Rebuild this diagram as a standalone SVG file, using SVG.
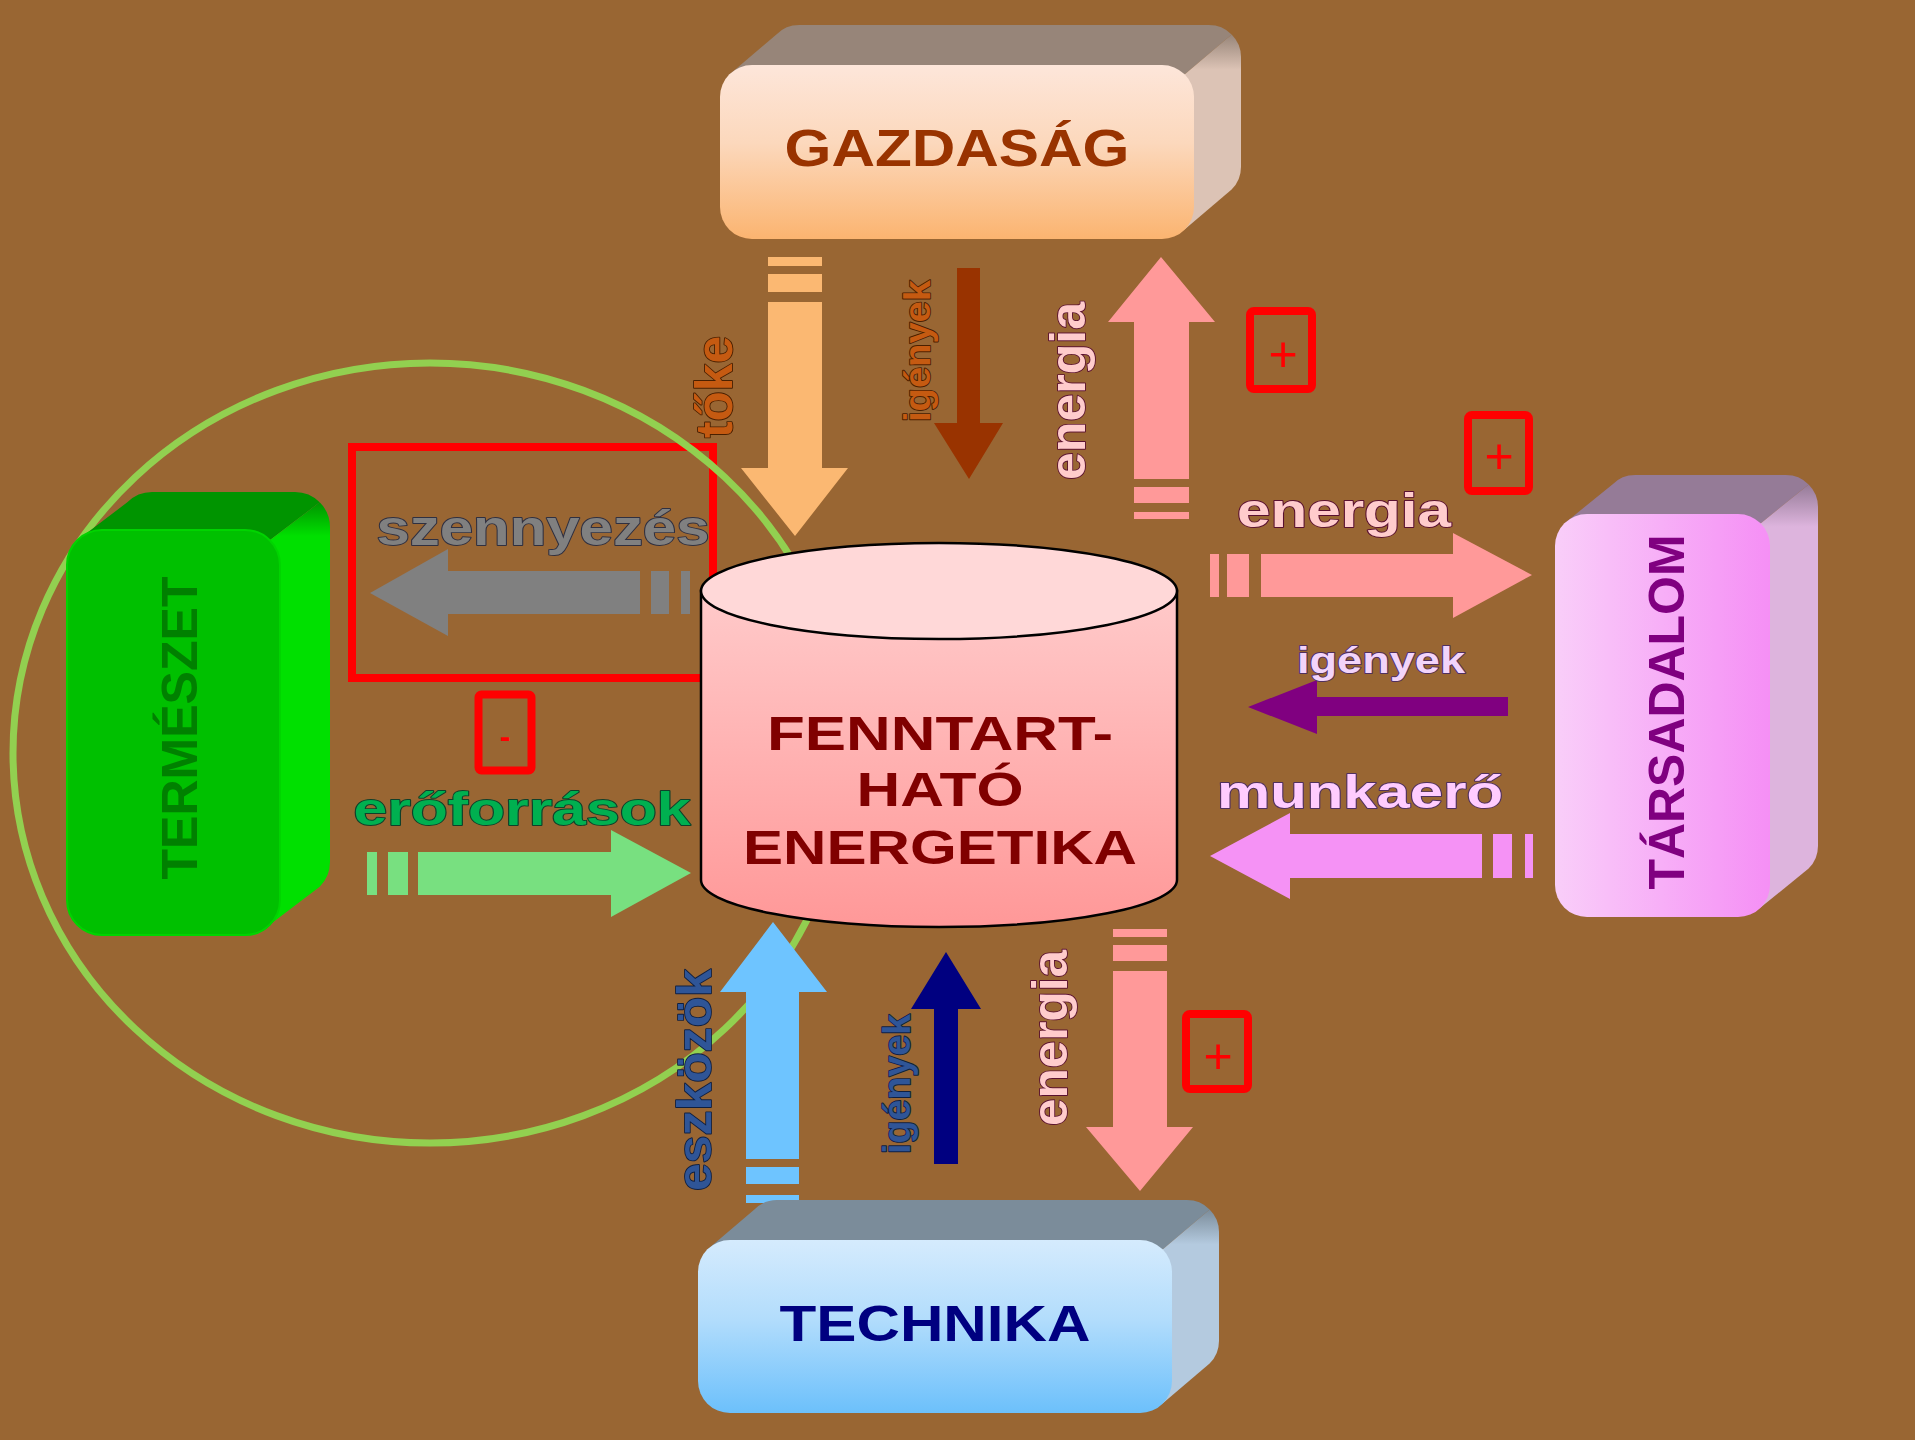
<svg xmlns="http://www.w3.org/2000/svg" width="1915" height="1440" viewBox="0 0 1915 1440">
  <defs>
    <linearGradient id="gFrontGaz" x1="0" y1="0" x2="0" y2="1">
      <stop offset="0" stop-color="#FDE6DA"/>
      <stop offset="0.45" stop-color="#FCD8BC"/>
      <stop offset="1" stop-color="#FBB470"/>
    </linearGradient>
    <linearGradient id="gSideGaz" x1="0" y1="0" x2="0" y2="1">
      <stop offset="0" stop-color="#978579"/>
      <stop offset="0.18" stop-color="#DCC3B5"/>
      <stop offset="1" stop-color="#DCC3B5"/>
    </linearGradient>
    <linearGradient id="gSideTer" x1="0" y1="0" x2="0" y2="1">
      <stop offset="0" stop-color="#009400"/>
      <stop offset="0.08" stop-color="#00E000"/>
      <stop offset="1" stop-color="#00E000"/>
    </linearGradient>
    <linearGradient id="gFrontTar" x1="0" y1="0" x2="1" y2="0">
      <stop offset="0" stop-color="#F9CEF9"/>
      <stop offset="1" stop-color="#F58FF5"/>
    </linearGradient>
    <linearGradient id="gSideTar" x1="0" y1="0" x2="0" y2="1">
      <stop offset="0" stop-color="#957B97"/>
      <stop offset="0.1" stop-color="#DDB4DD"/>
      <stop offset="1" stop-color="#DDB4DD"/>
    </linearGradient>
    <linearGradient id="gFrontTec" x1="0" y1="0" x2="0" y2="1">
      <stop offset="0" stop-color="#D5EBFD"/>
      <stop offset="0.45" stop-color="#B3DDFC"/>
      <stop offset="1" stop-color="#6CC0FB"/>
    </linearGradient>
    <linearGradient id="gSideTec" x1="0" y1="0" x2="0" y2="1">
      <stop offset="0" stop-color="#7B8C9A"/>
      <stop offset="0.18" stop-color="#B4CADF"/>
      <stop offset="1" stop-color="#B4CADF"/>
    </linearGradient>
    <linearGradient id="gCyl" x1="0" y1="0" x2="0" y2="1">
      <stop offset="0" stop-color="#FFCACA"/>
      <stop offset="1" stop-color="#FF9898"/>
    </linearGradient>
    <style>
      .t { font-family: "Liberation Sans", Arial, sans-serif; font-weight: bold; text-anchor: middle; }
      .o { paint-order: stroke; stroke-width: 1.8; stroke-linejoin: round; }
      .redbox { fill: none; stroke: #FF0000; stroke-width: 8; }
      .sign { font-family: "Liberation Sans", Arial, sans-serif; fill: #FF0000; text-anchor: middle; }
      .ring { fill: none; stroke: #92D050; stroke-width: 7; }
    </style>
  </defs>

  <!-- backdrop -->
  <rect x="0" y="0" width="1915" height="1440" fill="#996633"/>

  <!-- pollution frame and the nature ring -->
  <rect class="redbox" x="352" y="447" width="361" height="231"/>
  <ellipse class="ring" cx="430" cy="753" rx="417" ry="390"/>

  <!-- flows between the sectors and the energy system -->
  <g id="connectors">
    <!-- tőke: GAZDASÁG -> centre -->
    <g fill="#FBB872">
      <rect x="768" y="257" width="54" height="9"/>
      <rect x="768" y="274" width="54" height="18"/>
      <polygon points="768,302 822,302 822,468 848,468 795,536 741,468 768,468"/>
    </g>
    <text class="t o" transform="translate(732,387) rotate(-90)" font-size="52" textLength="102" lengthAdjust="spacingAndGlyphs" fill="#C55A11" stroke="#4A2000">tőke</text>

    <!-- igények: GAZDASÁG -> centre -->
    <polygon fill="#993300" points="957,268 980,268 980,423 1003,423 969,479 934,423 957,423"/>
    <text class="t o" transform="translate(930,351) rotate(-90)" font-size="36" textLength="142" lengthAdjust="spacingAndGlyphs" fill="#C55A11" stroke="#4A2000">igények</text>

    <!-- energia: centre -> GAZDASÁG -->
    <g fill="#FF9999">
      <polygon points="1134,479 1134,322 1108,322 1161,257 1215,322 1189,322 1189,479"/>
      <rect x="1134" y="487" width="55" height="16"/>
      <rect x="1134" y="512" width="55" height="7"/>
    </g>
    <text class="t o" transform="translate(1085,391) rotate(-90)" font-size="50" textLength="178" lengthAdjust="spacingAndGlyphs" fill="#FFCCCC" stroke="#5A1030">energia</text>

    <!-- energia: centre -> TÁRSADALOM -->
    <g fill="#FF9999">
      <rect x="1210" y="554" width="9" height="43"/>
      <rect x="1227" y="554" width="22" height="43"/>
      <polygon points="1261,554 1453,554 1453,533 1532,575 1453,618 1453,597 1261,597"/>
    </g>
    <text class="t o" x="1344" y="527" font-size="48" textLength="214" lengthAdjust="spacingAndGlyphs" fill="#FFCCCC" stroke="#5A1030">energia</text>

    <!-- igények: TÁRSADALOM -> centre -->
    <polygon fill="#800080" points="1508,697 1317,697 1317,680 1248,707 1317,734 1317,716 1508,716"/>
    <text class="t o" x="1381" y="673" font-size="36" textLength="168" lengthAdjust="spacingAndGlyphs" fill="#F2D4FA" stroke="#503060">igények</text>

    <!-- munkaerő: TÁRSADALOM -> centre -->
    <g fill="#F592F5">
      <polygon points="1482,834 1290,834 1290,813 1210,856 1290,899 1290,878 1482,878"/>
      <rect x="1493" y="834" width="19" height="44"/>
      <rect x="1525" y="834" width="8" height="44"/>
    </g>
    <text class="t o" x="1360" y="808" font-size="46" textLength="286" lengthAdjust="spacingAndGlyphs" fill="#FFCCFF" stroke="#503060">munkaerő</text>

    <!-- szennyezés: centre -> TERMÉSZET -->
    <g fill="#808080">
      <polygon points="640,571 448,571 448,549 370,593 448,636 448,614 640,614"/>
      <rect x="651" y="571" width="18" height="43"/>
      <rect x="681" y="571" width="9" height="43"/>
    </g>
    <text class="t o" x="543" y="545" font-size="50" textLength="333" lengthAdjust="spacingAndGlyphs" fill="#808080" stroke="#303040">szennyezés</text>

    <!-- erőforrások: TERMÉSZET -> centre -->
    <g fill="#78E080">
      <rect x="367" y="852" width="10" height="43"/>
      <rect x="388" y="852" width="20" height="43"/>
      <polygon points="418,852 611,852 611,830 691,873 611,917 611,895 418,895"/>
    </g>
    <text class="t o" x="522" y="825" font-size="46" textLength="337" lengthAdjust="spacingAndGlyphs" fill="#00B050" stroke="#10402A">erőforrások</text>

    <!-- eszközök: TECHNIKA -> centre -->
    <g fill="#6EC4FF">
      <polygon points="746,1159 746,992 720,992 773,922 827,992 799,992 799,1159"/>
      <rect x="746" y="1167" width="53" height="17"/>
      <rect x="746" y="1195" width="53" height="8"/>
    </g>
    <text class="t o" transform="translate(711,1080) rotate(-90)" font-size="48" textLength="222" lengthAdjust="spacingAndGlyphs" fill="#2F5597" stroke="#0F1F40">eszközök</text>

    <!-- igények: TECHNIKA -> centre -->
    <polygon fill="#000080" points="934,1164 934,1009 911,1009 946,952 981,1009 958,1009 958,1164"/>
    <text class="t o" transform="translate(910,1084) rotate(-90)" font-size="38" textLength="140" lengthAdjust="spacingAndGlyphs" fill="#2F5597" stroke="#0F1F40">igények</text>

    <!-- energia: centre -> TECHNIKA -->
    <g fill="#FF9999">
      <rect x="1113" y="929" width="54" height="8"/>
      <rect x="1113" y="945" width="54" height="16"/>
      <polygon points="1113,971 1167,971 1167,1127 1193,1127 1140,1191 1086,1127 1113,1127"/>
    </g>
    <text class="t o" transform="translate(1067,1038) rotate(-90)" font-size="50" textLength="176" lengthAdjust="spacingAndGlyphs" fill="#FFCCCC" stroke="#5A1030">energia</text>
  </g>

  <!-- GAZDASÁG block -->
  <g id="gazdasag">
    <path fill="#978579" d="M 729.4,74.4 L 776.4,34.4 A 32 32 0 0 1 799,25 L 1209,25 A 32 32 0 0 1 1231.6,34.4 L 1184.6,74.4 Z"/>
    <path fill="url(#gSideGaz)" d="M 1184.6,74.4 L 1231.6,34.4 A 32 32 0 0 1 1241,57 L 1241,167 A 32 32 0 0 1 1231.6,189.6 L 1184.6,229.6 Z"/>
    <rect x="720" y="65" width="474" height="174" rx="32" fill="url(#gFrontGaz)"/>
    <text class="t" x="957" y="166" font-size="52" textLength="345" lengthAdjust="spacingAndGlyphs" fill="#993300">GAZDASÁG</text>
  </g>

  <!-- TERMÉSZET block -->
  <g id="termeszet">
    <path fill="#009400" d="M 77.3,540.3 L 127.3,502.3 A 35 35 0 0 1 152,492 L 295,492 A 35 35 0 0 1 319.7,502.3 L 269.7,540.3 Z"/>
    <path fill="url(#gSideTer)" d="M 269.7,540.3 L 319.7,502.3 A 35 35 0 0 1 330,527 L 330,862 A 35 35 0 0 1 319.7,886.7 L 269.7,924.7 Z"/>
    <rect x="67" y="530" width="213" height="405" rx="35" fill="#00C000" stroke="#00D400" stroke-width="2"/>
    <text class="t" transform="translate(197,728) rotate(-90)" font-size="50" textLength="303" lengthAdjust="spacingAndGlyphs" fill="#008000">TERMÉSZET</text>
  </g>

  <!-- TÁRSADALOM block -->
  <g id="tarsadalom">
    <path fill="#957B97" d="M 1564.4,523.4 L 1612.4,484.4 A 32 32 0 0 1 1635,475 L 1786,475 A 32 32 0 0 1 1808.6,484.4 L 1760.6,523.4 Z"/>
    <path fill="url(#gSideTar)" d="M 1760.6,523.4 L 1808.6,484.4 A 32 32 0 0 1 1818,507 L 1818,846 A 32 32 0 0 1 1808.6,868.6 L 1760.6,907.6 Z"/>
    <rect x="1555" y="514" width="215" height="403" rx="32" fill="url(#gFrontTar)"/>
    <text class="t" transform="translate(1684,712) rotate(-90)" font-size="50" textLength="355" lengthAdjust="spacingAndGlyphs" fill="#800080">TÁRSADALOM</text>
  </g>

  <!-- TECHNIKA block -->
  <g id="technika">
    <path fill="#7B8C9A" d="M 707.4,1249.4 L 754.4,1209.4 A 32 32 0 0 1 777,1200 L 1187,1200 A 32 32 0 0 1 1209.6,1209.4 L 1162.6,1249.4 Z"/>
    <path fill="url(#gSideTec)" d="M 1162.6,1249.4 L 1209.6,1209.4 A 32 32 0 0 1 1219,1232 L 1219,1341 A 32 32 0 0 1 1209.6,1363.6 L 1162.6,1403.6 Z"/>
    <rect x="698" y="1240" width="474" height="173" rx="32" fill="url(#gFrontTec)"/>
    <text class="t" x="935" y="1341" font-size="50" textLength="311" lengthAdjust="spacingAndGlyphs" fill="#000080">TECHNIKA</text>
  </g>

  <!-- central cylinder -->
  <g id="energetika">
    <path fill="url(#gCyl)" stroke="#000" stroke-width="2.5" d="M 701,591 L 701,880 A 238 47 0 0 0 1177,880 L 1177,591 Z"/>
    <ellipse cx="939" cy="591" rx="238" ry="48" fill="#FFD8D8" stroke="#000" stroke-width="2.5"/>
    <g class="t" fill="#800000" font-size="49">
      <text x="940" y="750" textLength="346" lengthAdjust="spacingAndGlyphs">FENNTART-</text>
      <text x="940" y="806" textLength="167" lengthAdjust="spacingAndGlyphs">HATÓ</text>
      <text x="940" y="864" textLength="394" lengthAdjust="spacingAndGlyphs">ENERGETIKA</text>
    </g>
  </g>

  <!-- sign markers -->
  <g id="signs">
    <rect class="redbox" x="478.5" y="694.5" width="53" height="76" rx="3" stroke-width="7"/>
    <text class="sign" x="505" y="747" font-size="32" font-weight="bold">-</text>
    <rect class="redbox" x="1250" y="311" width="62" height="78" rx="4"/>
    <text class="sign" x="1283" y="371" font-size="50">+</text>
    <rect class="redbox" x="1468" y="415" width="61" height="76" rx="4"/>
    <text class="sign" x="1499" y="473" font-size="50">+</text>
    <rect class="redbox" x="1186" y="1014" width="62" height="75" rx="4"/>
    <text class="sign" x="1218" y="1073" font-size="50">+</text>
  </g>
</svg>
